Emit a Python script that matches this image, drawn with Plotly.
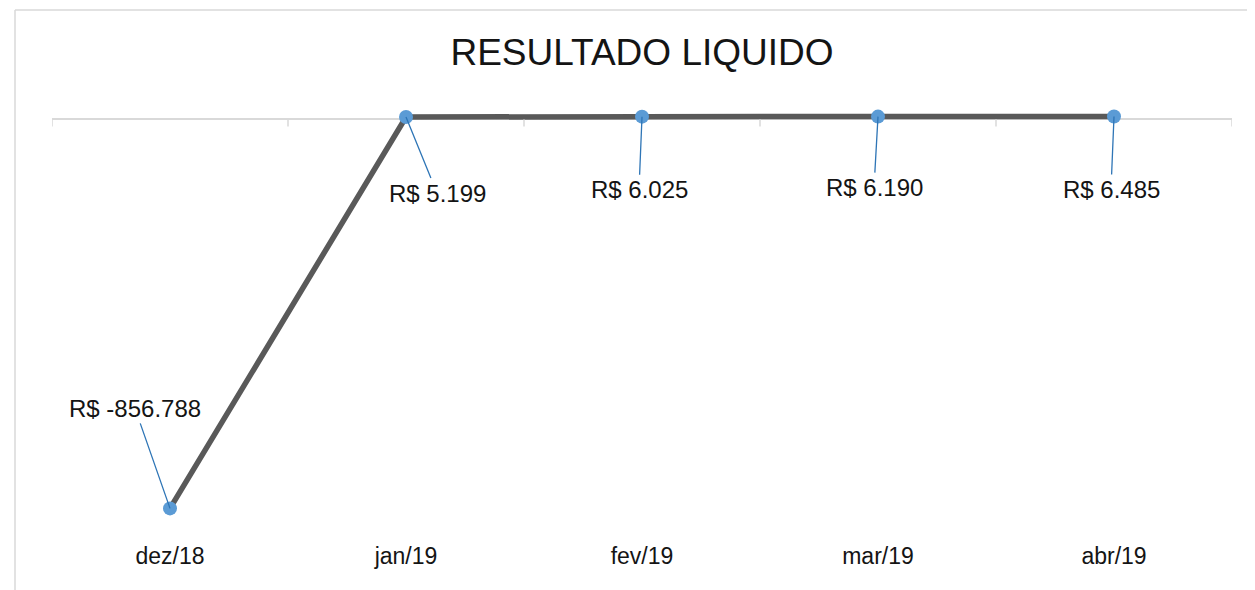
import plotly.graph_objects as go

categories = ["dez/18", "jan/19", "fev/19", "mar/19", "abr/19"]
values = [-856788, 5199, 6025, 6190, 6485]
labels = ["R$ -856.788", "R$ 5.199", "R$ 6.025", "R$ 6.190", "R$ 6.485"]
label_offsets = [(-35, -100), (31, 76), (-3, 73), (-4, 71), (-3, 73)]

FONT = "Liberation Sans, Arial, sans-serif"

# layout (figure coords; page body adds 8px offset)
ML, MR, MT, MB = 44, 31, 66, 70
W, H = 1255, 590
plot_w = W - ML - MR
plot_h = H - MT - MB

fig = go.Figure()
fig.add_trace(go.Scatter(
    x=list(range(len(categories))), y=values, mode="lines+markers",
    line=dict(color="#595959", width=5.5),
    marker=dict(color="#5B9BD5", size=14, line=dict(width=0)),
    hoverinfo="skip", showlegend=False,
))

annotations = []
for i, (v, lab, (ax, ay)) in enumerate(zip(values, labels, label_offsets)):
    annotations.append(dict(
        x=i, y=v, xref="x", yref="y", text=lab, showarrow=True,
        arrowhead=0, arrowwidth=1.3, arrowcolor="#2E75B6",
        ax=ax, ay=ay, font=dict(family=FONT, size=24, color="#141414"),
        standoff=0, startstandoff=0,
    ))

shapes = []
for k in range(len(categories) + 1):
    shapes.append(dict(
        type="line", xref="x", yref="y", x0=k - 0.5, x1=k - 0.5,
        ysizemode="pixel", yanchor=0, y0=0, y1=-7,
        line=dict(color="#d9d9d9", width=1.5),
    ))
bottom_px = H - MB
px_left = (7 - ML) / plot_w
py_top = (bottom_px - 2) / plot_h
py_bot = (bottom_px - 620) / plot_h
shapes.append(dict(type="line", xref="paper", yref="paper", x0=px_left, x1=px_left,
                   y0=py_bot, y1=py_top, line=dict(color="#d9d9d9", width=1.5)))
shapes.append(dict(type="line", xref="paper", yref="paper", x0=px_left, x1=1.1,
                   y0=py_top, y1=py_top, line=dict(color="#d9d9d9", width=1.5)))

fig.update_layout(
    width=W, height=H,
    margin=dict(l=ML, r=MR, t=MT, b=MB),
    paper_bgcolor="white", plot_bgcolor="white",
    title=dict(text="RESULTADO LIQUIDO", x=0.5, xref="paper", y=1 - 44 / H,
               yanchor="middle", xanchor="center",
               font=dict(family=FONT, size=37, color="#141414")),
    xaxis=dict(range=[-0.5, 4.5], tickmode="array", tickvals=list(range(len(categories))),
               ticktext=categories, showgrid=False, showline=False, zeroline=False,
               ticks="", tickfont=dict(family=FONT, size=23, color="#141414"),
               ticklabelstandoff=12),
    yaxis=dict(range=[-900000, 100000], showgrid=False, showticklabels=False,
               zeroline=True, zerolinecolor="#d9d9d9", zerolinewidth=1.5,
               showline=False, ticks=""),
    annotations=annotations, shapes=shapes,
)

fig.write_html("out.html")
